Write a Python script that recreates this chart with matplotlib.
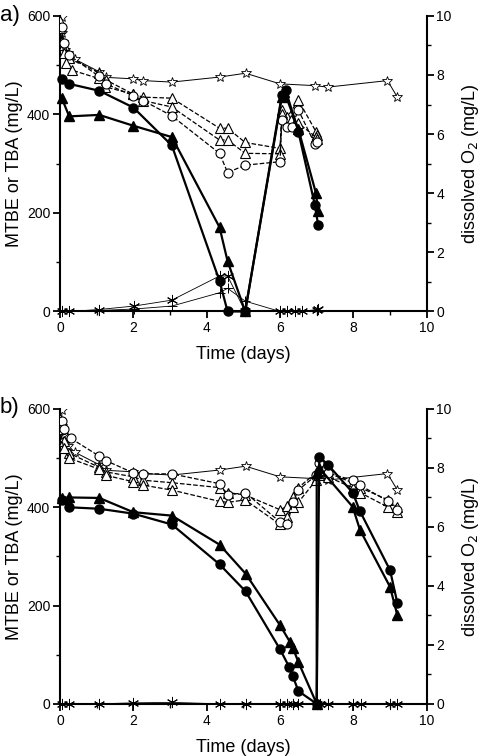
import matplotlib.pyplot as plt
from matplotlib.ticker import MultipleLocator

plt.rcParams['font.family'] = ['Liberation Sans', 'DejaVu Sans']

# ---- panel a ----
a_circ_t = [0.05, 0.25, 1.07, 2.0, 3.05, 4.35, 4.57, 5.05, 6.05, 6.15, 6.5, 6.95, 7.04]
a_circ_y = [472, 462, 448, 414, 337, 62, 0, 0, 440, 450, 365, 216, 175]
a_tri_t = [0.05, 0.25, 1.07, 2.0, 3.05, 4.35, 4.57, 5.05, 6.05, 6.12, 6.5, 6.98, 7.04]
a_tri_y = [433, 396, 399, 377, 354, 171, 102, 0, 435, 445, 370, 240, 203]
a_otri1_t = [0.0, 0.1, 0.25, 1.05, 1.25, 2.0, 2.27, 3.05, 4.35, 4.57, 5.05, 6.0, 6.05, 6.2, 6.5, 6.98, 7.02]
a_otri1_y = [590, 540, 515, 485, 470, 441, 435, 433, 372, 372, 343, 331, 409, 395, 429, 365, 358]
a_otri2_t = [0.0, 0.1, 0.16, 0.32, 1.05, 1.23, 2.0, 2.27, 3.05, 4.35, 4.57, 5.05, 6.0, 6.05, 6.3, 6.5, 6.98, 7.02]
a_otri2_y = [575, 525, 504, 490, 473, 456, 441, 428, 415, 348, 348, 321, 320, 400, 389, 382, 354, 350]
a_ocirc_t = [0.05, 0.1, 0.25, 1.05, 1.25, 2.0, 2.27, 3.05, 4.35, 4.57, 5.05, 6.0, 6.05, 6.18, 6.32, 6.5, 6.95, 7.0]
a_ocirc_y = [578, 545, 520, 478, 462, 438, 428, 397, 321, 282, 297, 304, 389, 375, 375, 409, 340, 345]
a_ast_t = [0.05, 0.25, 1.07, 2.02, 3.05, 4.35, 4.57, 5.05, 6.0, 6.2, 6.4, 6.6, 7.0, 7.04]
a_ast_y = [0, 0, 4, 11, 23, 72, 72, 0, 0, 0, 0, 0, 4, 5]
a_plus_t = [0.05, 0.25, 1.07, 2.02, 3.05, 4.35, 4.57, 5.05, 6.0, 6.2, 6.4, 6.6, 7.0]
a_plus_y = [0, 0, 2, 5, 11, 38, 47, 21, 0, 0, 0, 0, 3]

# dissolved O2 (same control data in both panels)
o2_t = [0.05, 0.05, 0.09, 0.14, 0.23, 0.41, 1.07, 1.25, 2.0, 2.27, 3.05, 4.35, 5.06, 6.0, 6.95, 7.3, 8.93, 9.2]
o2_y = [9.97, 9.41, 9.13, 8.85, 8.74, 8.53, 8.11, 7.92, 7.87, 7.81, 7.76, 7.93, 8.06, 7.70, 7.64, 7.59, 7.81, 7.25]

# ---- panel b ----
b_circ_t = [0.05, 0.25, 1.07, 2.0, 3.05, 4.35, 5.06, 6.0, 6.25, 6.35, 6.5, 7.0, 7.07, 7.3, 7.98, 8.18, 9.0, 9.2]
b_circ_y = [414, 400, 397, 387, 365, 284, 229, 111, 75, 56, 26, 0, 503, 487, 430, 392, 272, 205]
b_tri_t = [0.05, 0.25, 1.07, 2.0, 3.05, 4.35, 5.06, 6.0, 6.27, 6.35, 6.5, 7.0, 7.0, 7.07, 7.98, 8.18, 9.0, 9.2]
b_tri_y = [419, 420, 419, 390, 383, 324, 265, 160, 126, 114, 85, 0, 470, 480, 401, 354, 238, 180]
b_otri1_t = [0.0, 0.1, 0.25, 1.05, 1.25, 2.0, 2.27, 3.05, 4.35, 4.57, 5.05, 6.0, 6.2, 6.35, 6.5, 6.98, 7.05, 7.3, 7.98, 8.18, 8.95, 9.2]
b_otri1_y = [580, 535, 510, 482, 472, 462, 455, 450, 440, 430, 425, 395, 402, 420, 440, 470, 475, 470, 450, 440, 415, 400]
b_otri2_t = [0.0, 0.1, 0.25, 1.05, 1.25, 2.0, 2.27, 3.05, 4.35, 4.57, 5.05, 6.0, 6.2, 6.35, 6.5, 6.98, 7.05, 7.3, 7.98, 8.18, 8.95, 9.2]
b_otri2_y = [560, 520, 500, 478, 465, 452, 445, 435, 412, 410, 415, 365, 380, 400, 410, 455, 465, 462, 440, 430, 400, 390]
b_ocirc_t = [0.05, 0.1, 0.3, 1.05, 1.25, 2.0, 2.27, 3.05, 4.35, 4.57, 5.05, 6.0, 6.2, 6.35, 6.5, 6.98, 7.05, 7.3, 7.98, 8.18, 8.95, 9.2]
b_ocirc_y = [575, 560, 540, 505, 495, 470, 468, 468, 448, 425, 430, 370, 365, 410, 435, 465, 490, 470, 455, 445, 412, 395]
b_ast_t = [0.05, 0.25, 1.07, 2.0, 3.05, 4.35, 5.06, 6.0, 6.2, 6.35, 6.5, 7.0, 7.1, 7.3, 8.0, 8.2, 9.0, 9.2]
b_ast_y = [0, 0, 0, 2, 3, 0, 0, 0, 0, 0, 0, 0, 0, 0, 0, 0, 0, 0]


def draw(ax, circ, tri, otri1, otri2, ocirc, ast, plus):
    ax.set_zorder(2)
    ax.patch.set_visible(False)
    ax.plot(*circ, '-o', color='k', lw=1.6, ms=6.5, zorder=5, clip_on=False)
    ax.plot(*tri, '-^', color='k', lw=1.6, ms=6.5, zorder=5, clip_on=False)
    for d in (otri1, otri2):
        ax.plot(*d, '--^', color='k', lw=0.9, ms=7.5, mfc='white', mew=0.8, zorder=4)
    ax.plot(*ocirc, '--o', color='k', lw=0.9, ms=6.5, mfc='white', mew=0.8, zorder=4)
    ax.plot(*ast, '-', color='k', lw=0.6, marker=(6, 2, 0), ms=8, mew=0.7, zorder=3, clip_on=False)
    if plus is not None:
        ax.plot(*plus, '-+', color='k', lw=0.6, ms=7, mew=0.7, zorder=3, clip_on=False)
    ax.set_xlim(0, 10)
    ax.set_ylim(0, 600)
    ax.xaxis.set_major_locator(MultipleLocator(2))
    ax.xaxis.set_minor_locator(MultipleLocator(1))
    ax.yaxis.set_major_locator(MultipleLocator(200))
    ax.yaxis.set_minor_locator(MultipleLocator(100))
    for s in ('top', 'right'):
        ax.spines[s].set_visible(False)
    for s in ('left', 'bottom'):
        ax.spines[s].set_linewidth(1.5)
        ax.spines[s].set_zorder(1)
    ax.tick_params(which='major', direction='out', length=5, width=1.3, labelsize=10, pad=2)
    ax.tick_params(which='minor', direction='out', length=3, width=1.0)
    ax.set_xlabel('Time (days)', fontsize=13, labelpad=8)
    ax.set_ylabel('MTBE or TBA (mg/L)', fontsize=13, labelpad=3)
    ax2 = ax.twinx()
    ax2.set_zorder(1)
    ax2.plot(o2_t, o2_y, '-', color='k', lw=0.7, marker='*', ms=7.5, mfc='white', mew=0.6)
    ax2.set_ylim(0, 10)
    ax2.yaxis.set_major_locator(MultipleLocator(2))
    ax2.yaxis.set_minor_locator(MultipleLocator(1))
    for s in ('top', 'left', 'bottom'):
        ax2.spines[s].set_visible(False)
    ax2.spines['right'].set_linewidth(1.5)
    ax2.tick_params(which='major', direction='out', length=5, width=1.3, labelsize=10, pad=2)
    ax2.tick_params(which='minor', direction='out', length=3, width=1.0)
    ax2.set_ylabel('dissolved O$_2$ (mg/L)', fontsize=13, labelpad=6)


fig = plt.figure(figsize=(4.8, 7.56), dpi=100)
ax_a = fig.add_axes([0.125, 0.588, 0.764, 0.391])
ax_b = fig.add_axes([0.125, 0.069, 0.764, 0.390])

draw(ax_a, (a_circ_t, a_circ_y), (a_tri_t, a_tri_y), (a_otri1_t, a_otri1_y),
     (a_otri2_t, a_otri2_y), (a_ocirc_t, a_ocirc_y), (a_ast_t, a_ast_y), (a_plus_t, a_plus_y))
draw(ax_b, (b_circ_t, b_circ_y), (b_tri_t, b_tri_y), (b_otri1_t, b_otri1_y),
     (b_otri2_t, b_otri2_y), (b_ocirc_t, b_ocirc_y), (b_ast_t, b_ast_y), None)

fig.text(0.0, 0.979, 'a)', fontsize=16, va='center')
fig.text(0.0, 0.461, 'b)', fontsize=16, va='center')

fig.savefig('out.png', dpi=100)
